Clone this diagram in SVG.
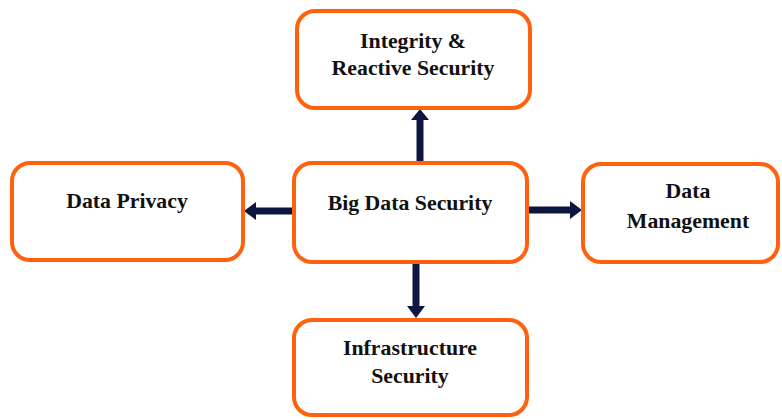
<svg xmlns="http://www.w3.org/2000/svg" width="782" height="419" viewBox="0 0 782 419">
  <style>
    .box { fill: #ffffff; stroke: #ff620f; stroke-width: 4; }
    .label { font-family: "Liberation Serif", "Times New Roman", serif; font-weight: bold; font-size: 21.8px; fill: #111111; text-anchor: middle; }
    .shaft { stroke: #0c1640; stroke-width: 7; fill: none; }
    .head { fill: #0c1640; }
  </style>
  <rect width="782" height="419" fill="#ffffff"/>

  <!-- connectors from the hub to each area -->
  <g id="connectors">
    <line class="shaft" x1="420" y1="162" x2="420" y2="118"/>
    <polygon class="head" points="420,109 411,120 429,120"/>
    <line class="shaft" x1="296" y1="211" x2="255" y2="211"/>
    <polygon class="head" points="244,211 256,202 256,220"/>
    <line class="shaft" x1="527" y1="210" x2="571" y2="210"/>
    <polygon class="head" points="582,210 570,201 570,219"/>
    <line class="shaft" x1="416" y1="263" x2="416" y2="307"/>
    <polygon class="head" points="416,318 407,306 425,306"/>
  </g>

  <g id="integrity">
    <rect class="box" x="297" y="11" width="233" height="97" rx="18"/>
    <text class="label" x="413" y="48">Integrity &amp;</text>
    <text class="label" x="413" y="75">Reactive Security</text>
  </g>

  <g id="privacy">
    <rect class="box" x="12" y="163" width="231" height="97" rx="18"/>
    <text class="label" x="127" y="208">Data Privacy</text>
  </g>

  <g id="hub">
    <rect class="box" x="294" y="163" width="233" height="99" rx="18"/>
    <text class="label" x="410" y="210">Big Data Security</text>
  </g>

  <g id="management">
    <rect class="box" x="583" y="164" width="195" height="98" rx="18"/>
    <text class="label" x="688" y="198">Data</text>
    <text class="label" x="688" y="228">Management</text>
  </g>

  <g id="infrastructure">
    <rect class="box" x="294" y="320" width="233" height="95" rx="18"/>
    <text class="label" x="410" y="355">Infrastructure</text>
    <text class="label" x="410" y="383">Security</text>
  </g>
</svg>
